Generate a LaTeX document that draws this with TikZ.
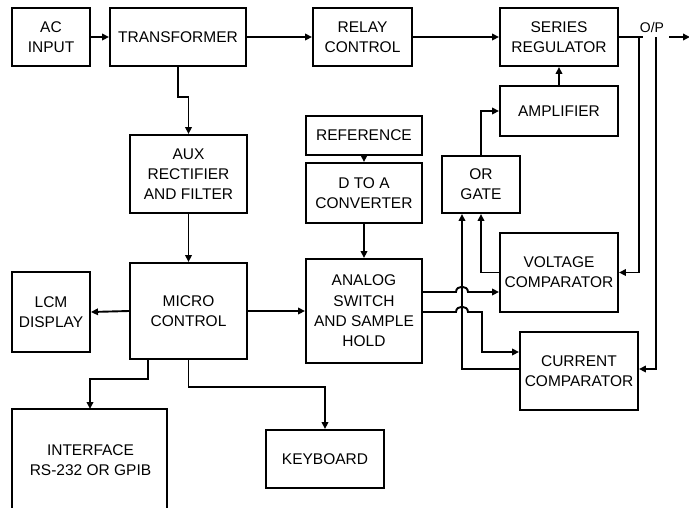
\documentclass[tikz,border=0pt]{standalone}
\usepackage{fontspec}
\setmainfont{Liberation Sans}
\usetikzlibrary{arrows.meta}
\newcommand\fs{\fontsize{15.5}{20.3}\selectfont}
\begin{document}
\begin{tikzpicture}[x=1pt,y=-1pt,
  blk/.style={draw, line width=1.9pt, inner sep=0pt, align=center, font=\fs},
  wire/.style={line width=1.9pt},
  arr/.style={wire, -{Triangle[length=7pt,width=6.5pt]}}]
\useasboundingbox (0,0) rectangle (689,507);
% blocks
\node[blk, minimum width=78pt, minimum height=58pt] (ac) at (51,37) {AC\\INPUT};
\node[blk, minimum width=136pt, minimum height=58pt] (tr) at (178,37) {TRANSFORMER};
\node[blk, minimum width=99pt, minimum height=58pt] (rc) at (362.5,37) {RELAY\\CONTROL};
\node[blk, minimum width=118pt, minimum height=58pt] (sr) at (559,37) {SERIES\\REGULATOR};
\node[blk, minimum width=118pt, minimum height=50pt] (amp) at (559,111) {AMPLIFIER};
\node[blk, minimum width=116pt, minimum height=39pt] (ref) at (364,135.5) {REFERENCE};
\node[blk, minimum width=116pt, minimum height=60pt] (dta) at (364,193) {D TO A\\CONVERTER};
\node[blk, minimum width=78pt, minimum height=57pt] (or) at (481,184.5) {OR\\GATE};
\node[blk, minimum width=118pt, minimum height=79pt] (vc) at (559,272.5) {VOLTAGE\\COMPARATOR};
\node[blk, minimum width=118pt, minimum height=78pt] (cc) at (579,371) {CURRENT\\COMPARATOR};
\node[blk, minimum width=117pt, minimum height=78pt] (aux) at (188.5,174) {AUX\\RECTIFIER\\AND FILTER};
\node[blk, minimum width=117pt, minimum height=96pt] (mc) at (188.5,311) {MICRO\\CONTROL};
\node[blk, minimum width=78pt, minimum height=80pt] (lcm) at (51,312) {LCM\\DISPLAY};
\node[blk, minimum width=116pt, minimum height=104pt] (asw) at (364,311) {ANALOG\\SWITCH\\AND SAMPLE\\HOLD};
\node[blk, minimum width=118pt, minimum height=58pt] (kb) at (325,459) {KEYBOARD};
% interface (open at the bottom)
\draw[wire] (12,512) -- (12,409) -- (167,409) -- (167,512);
\coordinate (ifc) at (90,409);
\node[font=\fs, align=center, inner sep=0pt] (ift) at (90.5,460) {INTERFACE\\RS-232 OR GPIB};
\node[font=\fontsize{14}{16}\selectfont, inner sep=0pt] (op) at (652,27) {O/P};
% connectors
\draw[arr] (ac.east) -- (tr.west);
\draw[arr] (tr.east) -- (rc.west);
\draw[arr] (rc.east) -- (sr.west);
\draw[arr] (tr.south) -- ++(0,30) -| (aux.north);
\draw[arr] (aux.south) -- (mc.north);
\draw[arr] (mc.west) -- (lcm.east);
\draw[arr] (mc.east) -- (asw.west);
\draw[arr] ([xshift=-40.5pt]mc.south) -- ++(0,19) -| (ifc);
\draw[arr] (mc.south) -- ++(0,27) -| (kb.north);
\draw[arr] (ref.south) -- (dta.north);
\draw[arr] (dta.south) -- (asw.north);
\draw[arr] (amp.north) -- (sr.south);
\draw[arr] (or.north) |- (amp.west);
\draw[arr] (vc.west) -| (or.south);
\draw[arr] ([yshift=2pt]cc.west) -| ([xshift=-19pt]or.south);
\draw[arr] ([yshift=19pt]asw.east) -- (456,292) .. controls (456,285) and (468,285) .. (468,292) -- ([yshift=-19.5pt]vc.west);
\draw[arr] ([yshift=-1pt]asw.east) -- (456,312) .. controls (456,305) and (468,305) .. (468,312) -- (482,312) -- (482,352) -- ([yshift=19pt]cc.west);
% output
\coordinate (o1) at (643,37);
\coordinate (v1) at (639,37);
\coordinate (v2) at (656,37);
\coordinate (o2) at (669,37);
\coordinate (o3) at (690,37);
\draw[wire] (sr.east) -- (o1);
\draw[arr] (v1) |- (vc.east);
\draw[arr] (v2) |- ([yshift=2pt]cc.east);
\draw[arr] (o2) -- (o3);
\end{tikzpicture}
\end{document}
